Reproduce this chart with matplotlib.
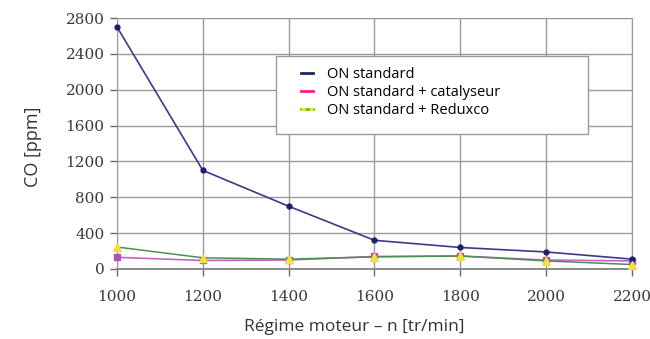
import matplotlib
matplotlib.use("Agg")
import matplotlib.pyplot as plt
from matplotlib.lines import Line2D
from matplotlib.patches import Rectangle

regime = [1000, 1200, 1400, 1600, 1800, 2000, 2200]
on_standard = [2700, 1100, 700, 320, 240, 190, 110]
on_catalyseur = [130, 95, 100, 140, 145, 100, 90]
on_reduxco = [245, 125, 110, 135, 145, 90, 50]

labels = ["ON standard", "ON standard + catalyseur", "ON standard + Reduxco"]
yticks = [0, 400, 800, 1200, 1600, 2000, 2400, 2800]

fig = plt.figure(figsize=(6.5, 3.39), dpi=100)
ax = fig.add_axes([0.18, 0.2065, 0.7923, 0.7404])

ax.plot(regime, on_standard, color="#3a3a88", lw=1.2, marker="o", ms=3.5,
        mfc="#1e1e70", mec="#1e1e70", zorder=4, clip_on=False)
ax.plot(regime, on_catalyseur, color="#c860c8", lw=1.2, marker="s", ms=5,
        mfc="#b050b8", mec="#b050b8", zorder=3, clip_on=False)
ax.plot(regime, on_reduxco, color="#4a9050", lw=1.1, marker="^", ms=5.5,
        mfc="#f2e040", mec="#f2e040", zorder=5, clip_on=False)

ax.set_xlim(1000, 2200)
ax.set_ylim(0, 2800)
ax.set_xticks(regime)
ax.set_yticks(yticks)
ax.grid(True, color="#9a9a9a", lw=1.0)
for s in ["top", "right", "left"]:
    ax.spines[s].set_color("#9a9a9a")
ax.spines["bottom"].set_color("#8a8a8a")
ax.spines["bottom"].set_linewidth(1.4)
ax.tick_params(axis="both", colors="#6a6a6a", length=5, width=1.0,
               labelcolor="#3a3a3a", labelsize=11)
ax.tick_params(axis="x", pad=10)
ax.tick_params(axis="y", pad=4)
for t in ax.get_xticklabels() + ax.get_yticklabels():
    t.set_family("DejaVu Serif")

ax.set_ylabel("CO [ppm]", family="Open Sans", fontsize=13, color="#333333")
ax.set_xlabel("Régime moteur – n [tr/min]", family="Open Sans", fontsize=12.5,
              color="#333333")
ax.yaxis.set_label_coords(-0.145, 0.486)
ax.xaxis.set_label_coords(0.46, -0.2)

# legend box
ax.add_patch(Rectangle((0.309, 0.538), 0.606, 0.311, transform=ax.transAxes,
                       facecolor="white", edgecolor="#9a9a9a", lw=1.0, zorder=6))
h1 = Line2D([], [], color="#1a2a5a", lw=2)
h2 = Line2D([], [], color="#ff1a8c", lw=2)
h3a = Line2D([], [], color="#5ab84a", lw=2)
h3b = Line2D([], [], color="#f5f000", lw=2, ls=(0, (1.5, 1.5)), dash_capstyle="butt")
leg = ax.legend([h1, h2, (h3a, h3b)], labels, loc="upper left",
                bbox_to_anchor=(0.343, 0.835), frameon=False, handlelength=0.8,
                handletextpad=1.0, labelspacing=0.22, borderpad=0,
                prop={"family": "Open Sans", "size": 10.5})
leg.set_zorder(7)

fig.savefig("out.png", dpi=100)
